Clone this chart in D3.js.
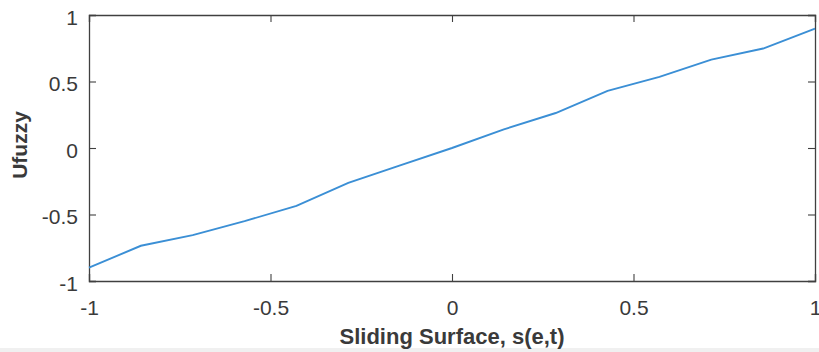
<!DOCTYPE html>
<html><head><meta charset="utf-8">
<script src="https://cdn.jsdelivr.net/npm/d3@7"></script>
<style>html,body{margin:0;padding:0;background:#fff;} svg{display:block;}</style>
</head><body>
<script>
const sValues = [-1, -6/7, -5/7, -4/7, -3/7, -2/7, -1/7, 0, 1/7, 2/7, 3/7, 4/7, 5/7, 6/7, 1];
const uFuzzy  = [-0.90, -0.735, -0.655, -0.55, -0.435, -0.262, -0.13, 0, 0.14, 0.263, 0.43, 0.535, 0.665, 0.748, 0.898];
const xTicks = [-1, -0.5, 0, 0.5, 1];
const yTicks = [-1, -0.5, 0, 0.5, 1];
const xLabel = "Sliding Surface, s(e,t)";
const yLabel = "Ufuzzy";

const W = 819, H = 352;
const m = {left: 89, right: 4, top: 15, bottom: 71};
const svg = d3.select("body").append("svg").attr("width", W).attr("height", H);
svg.append("rect").attr("x",0).attr("y",348).attr("width",W).attr("height",4).attr("fill","#f0f0f0");

const x = d3.scaleLinear().domain([-1,1]).range([m.left, W - m.right]);
const y = d3.scaleLinear().domain([-1,1]).range([H - m.bottom, m.top]);
const axisColor = "#404040", font = "'Liberation Sans', Arial, Helvetica, sans-serif";
const fmt = d => String(d);

const gx = svg.append("g").attr("transform", `translate(0,${y(-1)})`)
  .call(d3.axisBottom(x).tickValues(xTicks).tickSize(-7).tickPadding(19).tickFormat(fmt));
const gy = svg.append("g").attr("transform", `translate(${x(-1)},0)`)
  .call(d3.axisLeft(y).tickValues(yTicks).tickSize(-7).tickPadding(11).tickFormat(fmt));
const gxt = svg.append("g").attr("transform", `translate(0,${y(1)})`)
  .call(d3.axisTop(x).tickValues(xTicks).tickSize(-7).tickFormat(""));
const gyr = svg.append("g").attr("transform", `translate(${x(1)},0)`)
  .call(d3.axisRight(y).tickValues(yTicks).tickSize(-7).tickFormat(""));
[gx, gy, gxt, gyr].forEach(g => {
  g.select(".domain").attr("stroke", axisColor).attr("stroke-width", 1.3);
  g.selectAll(".tick line").attr("stroke", axisColor).attr("stroke-width", 1.1);
  g.selectAll(".tick text").attr("fill", "#3a3a3a").style("font-family", font).style("font-size", "21px");
});
gy.selectAll(".tick text").attr("dy", "0.45em");

const line = d3.line().x((d,i) => x(sValues[i])).y(d => y(d));
svg.append("path").datum(uFuzzy).attr("d", line)
  .attr("fill","none").attr("stroke","#3b8fd5").attr("stroke-width",1.9);

svg.append("text").attr("x", x(0)).attr("y", 344).attr("text-anchor","middle")
  .style("font-family", font).style("font-size","22px").style("font-weight","bold").attr("fill","#3a3a3a")
  .text(xLabel);
svg.append("text").attr("transform", `translate(27,145) rotate(-90)`).attr("text-anchor","middle")
  .style("font-family", font).style("font-size","21px").style("font-weight","bold").attr("fill","#3a3a3a")
  .text(yLabel);
</script>
</body></html>
